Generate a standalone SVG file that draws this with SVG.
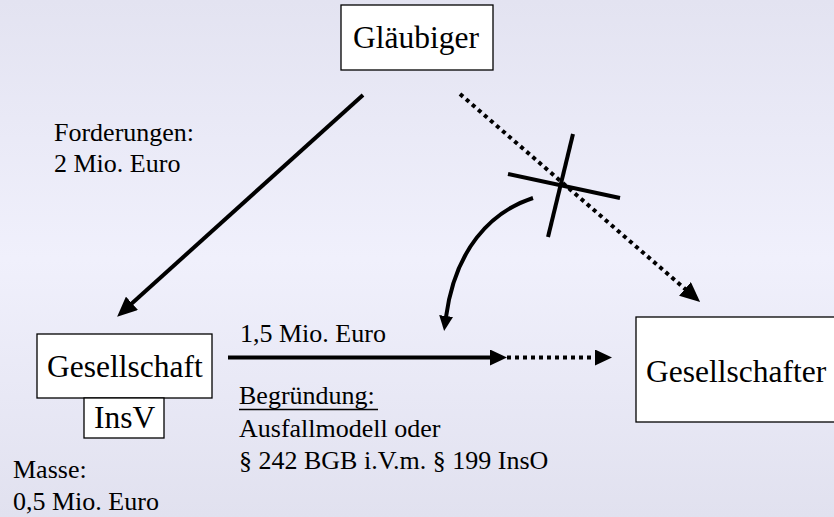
<svg xmlns="http://www.w3.org/2000/svg" width="834" height="517" viewBox="0 0 834 517">
<defs>
<linearGradient id="bg" x1="0" y1="0" x2="0" y2="1">
<stop offset="0" stop-color="#e3e3f1"/>
<stop offset="0.5" stop-color="#f0f0fc"/>
<stop offset="1" stop-color="#e1e1ef"/>
</linearGradient>
<marker id="ah" markerUnits="userSpaceOnUse" viewBox="0 0 20 18" markerWidth="20" markerHeight="18" refX="4" refY="9" orient="auto">
<path d="M0,0 L20,9 L0,18 z" fill="#000"/>
</marker>
<marker id="ahs" markerUnits="userSpaceOnUse" viewBox="0 0 17 16" markerWidth="17" markerHeight="16" refX="3" refY="8" orient="auto">
<path d="M0,0 L17,8 L0,16 z" fill="#000"/>
</marker>
<marker id="ahc" markerUnits="userSpaceOnUse" viewBox="0 0 15 14" markerWidth="15" markerHeight="14" refX="1" refY="7" orient="auto">
<path d="M0,0 L15,7 L0,14 z" fill="#000"/>
</marker>
</defs>
<style>
.box{fill:#fff;stroke:#000;stroke-width:1.3}
text{font-family:'Liberation Serif','Times New Roman','DejaVu Serif',serif;fill:#000}
.big{font-size:31.5px}
.txt{font-size:26px}
.ln{stroke:#000;stroke-width:4;fill:none}
.dot{stroke:#000;stroke-width:4;fill:none;stroke-dasharray:4 4}
</style>
<rect x="0" y="0" width="834" height="517" fill="url(#bg)"/>

<g id="glaeubiger">
<rect class="box" x="341" y="5" width="152" height="65"/>
<text class="big" x="353" y="48" font-family="Liberation Serif, Times New Roman, DejaVu Serif, serif">Gläubiger</text>
</g>

<g id="gesellschaft">
<rect class="box" x="37" y="334" width="175" height="64"/>
<text class="big" x="47" y="377">Gesellschaft</text>
</g>

<g id="insv">
<rect class="box" x="84" y="398" width="80" height="40"/>
<text class="big" x="94" y="428">InsV</text>
</g>

<g id="gesellschafter">
<rect class="box" x="636" y="317" width="210" height="105"/>
<text class="big" x="646" y="382">Gesellschafter</text>
</g>

<g id="labels">
<text class="txt" x="54" y="141">Forderungen:</text>
<text class="txt" x="54" y="172">2 Mio. Euro</text>
<text class="txt" x="13" y="478">Masse:</text>
<text class="txt" x="13" y="510">0,5 Mio. Euro</text>
<text class="txt" x="240" y="342">1,5 Mio. Euro</text>
<text class="txt" x="239" y="404">Begründung:</text>
<line x1="239" y1="409.5" x2="378" y2="409.5" stroke="#000" stroke-width="1.3"/>
<text class="txt" x="239" y="437">Ausfallmodell oder</text>
<text class="txt" x="239" y="469">§ 242 BGB i.V.m. § 199 InsO</text>
</g>

<g id="connectors">
<line class="ln" x1="363" y1="95" x2="129" y2="306" marker-end="url(#ah)"/>
<line class="dot" x1="460" y1="94" x2="688" y2="291.5" marker-end="url(#ah)"/>
<line class="ln" x1="508" y1="174" x2="620" y2="198" stroke-width="3"/>
<line class="ln" x1="573" y1="134" x2="548" y2="237" stroke-width="3"/>
<path class="ln" d="M533,198 C490,212 455,250 446,317" stroke-width="3" marker-end="url(#ahc)"/>
<line class="ln" x1="228" y1="357.5" x2="493" y2="357.5" marker-end="url(#ahs)"/>
<line class="dot" x1="507" y1="357.5" x2="598" y2="357.5" marker-end="url(#ahs)"/>
</g>
</svg>
